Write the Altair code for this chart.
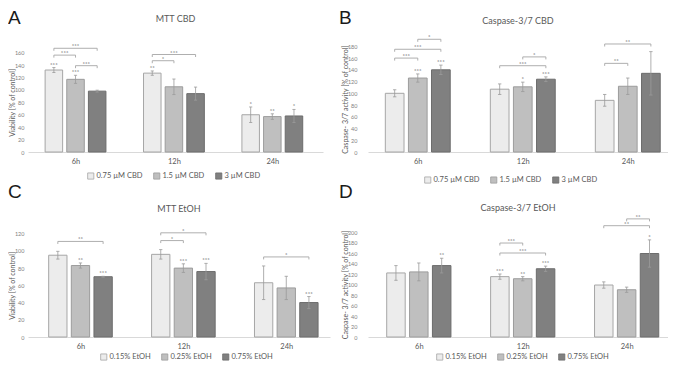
import altair as alt
import pandas as pd

# ---------------- data ----------------
times = ["6h", "12h", "24h"]
cbd_doses = ["0.75 µM CBD", "1.5 µM CBD", "3 µM CBD"]
etoh_doses = ["0.15% EtOH", "0.25% EtOH", "0.75% EtOH"]

# A: MTT CBD (order: 6h x3 doses, 12h x3, 24h x3)
mtt_cbd_mean = [132, 117, 98, 127, 105, 94, 60, 57, 58]
mtt_cbd_err = [4, 6.5, 1.5, 3.5, 12.5, 10.5, 12.5, 4.5, 10.5]
mtt_cbd_sig = ["***", "***", "", "**", "", "", "*", "**", "*"]
# brackets: (time index, from dose, to dose, height, label)
mtt_cbd_pairs = [(0, 0, 1, 156, "***"), (0, 0, 2, 167, "***"), (0, 1, 2, 139, "***"),
                 (1, 0, 1, 147, "*"), (1, 0, 2, 157, "***")]

# B: Caspase-3/7 CBD
casp_cbd_mean = [100, 126, 140, 107, 111, 124, 88, 112, 134]
casp_cbd_err = [6, 7, 8, 9, 8, 4, 10, 14, 37]
casp_cbd_sig = ["", "***", "***", "", "*", "***", "", "", ""]
casp_cbd_pairs = [(0, 0, 1, 160, "***"), (0, 0, 2, 175, "***"), (0, 1, 2, 192, "*"),
                  (1, 0, 2, 147, "***"), (1, 1, 2, 162, "*"),
                  (2, 0, 1, 151, "**"), (2, 0, 2, 184, "**")]

# C: MTT EtOH
mtt_etoh_mean = [95, 83, 70, 96, 80, 76, 63, 57, 40]
mtt_etoh_err = [4.5, 3, 0.5, 5.5, 5, 9.5, 19.5, 13.5, 7]
mtt_etoh_sig = ["", "**", "***", "", "***", "***", "", "", "***"]
mtt_etoh_pairs = [(0, 0, 2, 111, "**"), (1, 0, 1, 112, "*"), (1, 0, 2, 121, "*"),
                  (2, 0, 2, 93, "*")]

# D: Caspase-3/7 EtOH
casp_etoh_mean = [122, 124, 136, 115, 111, 130, 99, 90, 159]
casp_etoh_err = [14, 17, 14, 5, 4, 5, 6, 5, 26]
casp_etoh_sig = ["", "", "**", "***", "**", "***", "", "", "*"]
casp_etoh_pairs = [(1, 0, 1, 179, "***"), (1, 0, 2, 160, "***"),
                   (2, 0, 2, 212, "**"), (2, 1, 2, 225, "**")]

# ---------------- style ----------------
FONT = "Lato"
TXT = "#595959"
FILLS = ["#ececec", "#bfbfbf", "#808080"]
STROKES = ["#a6a6a6", "#9c9c9c", "#6c6c6c"]
ERR = "#9a9a9a"
BR = "#a6a6a6"
OFF = 0.22   # offset between bars in a group (x units)
BW = 0.178   # bar width (x units)
CAP = 0.016  # error cap half width


def panel(letter, title, ytitle, doses, means, errs, sig, pairs, ticks,
          W, H, ymax, xdom, letter_x, title_y, legend_x, legend_y, lab_pad, extent):
    df = pd.DataFrame({
        "ti": [i for i in range(len(times)) for _ in doses],
        "di": [j for _ in times for j in range(len(doses))],
        "dose": [d for _ in times for d in doses],
        "mean": means, "err": errs, "sig": sig,
    })
    ppu = H / ymax
    base = (alt.Chart(df)
            .transform_calculate(pos=f"datum.ti + (datum.di - 1) * {OFF}")
            .transform_calculate(x0=f"datum.pos - {BW / 2}", x1=f"datum.pos + {BW / 2}",
                                 c0=f"datum.pos - {CAP}", c1=f"datum.pos + {CAP}",
                                 lo="datum.mean - datum.err", hi="datum.mean + datum.err"))
    xs = alt.Scale(domain=xdom, nice=False, zero=False)
    ys = alt.Scale(domain=[0, ymax], nice=False, zero=False)
    maxt = ticks[-1]
    xaxis = alt.Axis(values=[0, 1, 2], labelExpr=f"{times}[datum.value]", title=None,
                     grid=False, ticks=False, domainColor="#d9d9d9", domainWidth=1,
                     labelFontSize=7.5, labelColor=TXT, labelPadding=5, labelFont=FONT)
    yaxis = alt.Axis(values=ticks, title=ytitle, grid=False, ticks=False, domain=False,
                     labelFontSize=5.5, labelColor="#7f7f7f", labelPadding=lab_pad,
                     minExtent=extent, maxExtent=extent, titleFontSize=7,
                     titleFontWeight="normal", titleColor=TXT, titlePadding=1,
                     titleFont=FONT, labelFont=FONT,
                     titleY=H - (maxt / 2) * ppu)

    def X(f, **kw):
        return alt.X(f, scale=xs, axis=xaxis, **kw)

    def Y(f, **kw):
        return alt.Y(f, scale=ys, axis=yaxis, **kw)

    leg = alt.Legend(orient="none", legendX=legend_x, legendY=legend_y, direction="horizontal",
                     title=None, symbolType="square", symbolSize=38,
                     symbolStrokeColor="#8c8c8c", symbolStrokeWidth=0.8,
                     labelFontSize=7.5, labelColor=TXT, labelFont=FONT,
                     columnPadding=9, labelOffset=2, padding=0)
    bars = base.mark_bar(strokeWidth=1).encode(
        x=X("x0:Q"), x2="x1:Q",
        y=Y("mean:Q"), y2=alt.datum(0),
        fill=alt.Fill("dose:N", scale=alt.Scale(domain=doses, range=FILLS), legend=leg),
        stroke=alt.Stroke("dose:N", scale=alt.Scale(domain=doses, range=STROKES), legend=None),
    )
    err = base.mark_rule(color=ERR, strokeWidth=0.8).encode(
        x=X("pos:Q"), y=Y("lo:Q"), y2="hi:Q")
    cap_hi = base.mark_rule(color=ERR, strokeWidth=0.8).encode(
        x=X("c0:Q"), x2="c1:Q", y=Y("hi:Q"))
    cap_lo = base.mark_rule(color=ERR, strokeWidth=0.8).encode(
        x=X("c0:Q"), x2="c1:Q", y=Y("lo:Q"))
    stars = base.mark_text(fontSize=6, color=TXT, baseline="alphabetic", dy=-1, font=FONT).encode(
        x=X("pos:Q"), y=Y("hi:Q"), text="sig:N")

    pdf = pd.DataFrame(pairs, columns=["ti", "a", "b", "y", "sig"])
    tick_units = 2.5 / ppu
    pb = (alt.Chart(pdf)
          .transform_calculate(xa=f"datum.ti + (datum.a - 1) * {OFF}",
                               xb=f"datum.ti + (datum.b - 1) * {OFF}")
          .transform_calculate(xm="(datum.xa + datum.xb) / 2",
                               yd=f"datum.y - {tick_units}"))
    hline = pb.mark_rule(color=BR, strokeWidth=0.9).encode(
        x=X("xa:Q"), x2="xb:Q", y=Y("y:Q"))
    lend = pb.mark_rule(color=BR, strokeWidth=0.9).encode(
        x=X("xa:Q"), y=Y("y:Q"), y2="yd:Q")
    rend = pb.mark_rule(color=BR, strokeWidth=0.9).encode(
        x=X("xb:Q"), y=Y("y:Q"), y2="yd:Q")
    plabel = pb.mark_text(fontSize=6, color=TXT, baseline="alphabetic", dy=0, font=FONT).encode(
        x=X("xm:Q"), y=Y("y:Q"), text="sig:N")

    let = alt.Chart(pd.DataFrame({"t": [letter]})).mark_text(
        align="left", baseline="top", fontSize=19, font="Liberation Sans", color="#1a1a1a"
    ).encode(x=alt.value(letter_x), y=alt.value(1), text="t:N")
    ttl = alt.Chart(pd.DataFrame({"t": [title]})).mark_text(
        align="center", baseline="middle", fontSize=9, font=FONT, color=TXT
    ).encode(x=alt.value(W / 2), y=alt.value(title_y), text="t:N")

    return alt.layer(bars, err, cap_hi, cap_lo, stars, hline, lend, rend, plabel, let, ttl
                     ).properties(width=W, height=H)


pA = panel("A", "MTT CBD", "Viability [% of control]", cbd_doses,
           mtt_cbd_mean, mtt_cbd_err, mtt_cbd_sig, mtt_cbd_pairs, list(range(0, 161, 20)),
           W=295, H=144, ymax=144 / 0.621, xdom=[-0.483, 2.515], letter_x=-20, title_y=11,
           legend_x=59, legend_y=164, lab_pad=4, extent=12)
pB = panel("B", "Caspase-3/7 CBD", "Caspase- 3/7 activity [% of control]", cbd_doses,
           casp_cbd_mean, casp_cbd_err, casp_cbd_sig, casp_cbd_pairs, list(range(0, 181, 20)),
           W=300, H=144, ymax=144 / 0.587, xdom=[-0.474, 2.383], letter_x=-29, title_y=12.5,
           legend_x=56, legend_y=168, lab_pad=11, extent=19)
pC = panel("C", "MTT EtOH", "Viability [% of control]", etoh_doses,
           mtt_etoh_mean, mtt_etoh_err, mtt_etoh_sig, mtt_etoh_pairs, list(range(0, 121, 20)),
           W=302, H=155, ymax=155 / 0.861, xdom=[-0.51, 2.425], letter_x=-20, title_y=27,
           legend_x=72, legend_y=171, lab_pad=4, extent=12)
pD = panel("D", "Caspase-3/7 EtOH", "Caspase- 3/7 activity [% of control]", etoh_doses,
           casp_etoh_mean, casp_etoh_err, casp_etoh_sig, casp_etoh_pairs, list(range(0, 201, 20)),
           W=300, H=155, ymax=155 / 0.525, xdom=[-0.489, 2.398], letter_x=-29, title_y=26,
           legend_x=68, legend_y=171, lab_pad=11, extent=19)

chart = (alt.concat(pA, pB, pC, pD, columns=2, spacing={"row": 30, "column": 38}, bounds="flush")
         .resolve_scale(x="independent", y="independent", fill="independent", stroke="independent")
         .resolve_legend(fill="independent", stroke="independent")
         .configure_view(stroke=None)
         .configure_axisX(labelColor=TXT)
         .properties(padding=0, background="white"))

chart.save("out.html", embed_options={"renderer": "svg", "actions": False})
